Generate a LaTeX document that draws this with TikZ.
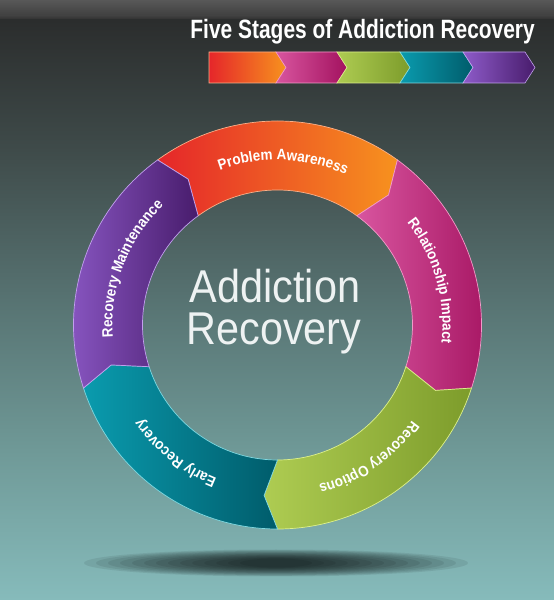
\documentclass[tikz,border=0pt]{standalone}
\usepackage{fontspec}
\setmainfont{Liberation Sans}
\newfontfamily\titlefont[FakeStretch=0.79]{Liberation Sans}
\newfontfamily\lblfont[FakeStretch=0.9]{Liberation Sans}
\newfontfamily\centerfont[FakeStretch=0.9]{Liberation Sans}
\usetikzlibrary{decorations.text}
\definecolor{bgA}{HTML}{585858}
\definecolor{bgB}{HTML}{3E3E3E}
\definecolor{bgC}{HTML}{2B2D2D}
\definecolor{bgD}{HTML}{3F4B4A}
\definecolor{bgE}{HTML}{577372}
\definecolor{bgF}{HTML}{6F9997}
\definecolor{bgG}{HTML}{86BBBB}
\definecolor{redL}{HTML}{E5262A}
\definecolor{redR}{HTML}{F7921E}
\definecolor{redO}{HTML}{F9B08A}
\definecolor{magL}{HTML}{D8559F}
\definecolor{magR}{HTML}{A3125F}
\definecolor{magO}{HTML}{F29AC8}
\definecolor{grnL}{HTML}{AECC52}
\definecolor{grnR}{HTML}{7D9C2B}
\definecolor{grnO}{HTML}{DDF08A}
\definecolor{tealL}{HTML}{0A9BAE}
\definecolor{tealR}{HTML}{005C6B}
\definecolor{tealO}{HTML}{7FD8E0}
\definecolor{purL}{HTML}{8E5BC9}
\definecolor{purR}{HTML}{481C6C}
\definecolor{purO}{HTML}{C2A0EE}
\definecolor{ctrtxt}{HTML}{EEF2F2}
\newcommand\ringseg[4]{%
  \pgfmathsetmacro\segb{#1-72}%
  \pgfmathsetmacro\segtb{#1-72-4.5}%
  \pgfmathsetmacro\segta{#1-4.5}%
  \path[left color=#2, right color=#3, draw=#4, line width=0.7pt, line join=miter]
    (#1:204) arc[start angle=#1, end angle=\segb, radius=204]
    -- (\segtb:171) -- (\segb:135)
    arc[start angle=\segb, end angle=#1, radius=135]
    -- (\segta:171) -- cycle;
}
\newcommand\ringlabel[2]{%
  \pgfmathsetmacro\lbla{#1+45}%
  \pgfmathsetmacro\lblb{#1-45}%
  \path[decorate, decoration={text along path, text align=center,
      text={|\lblfont\bfseries\fontsize{15}{15}\selectfont\color{white}|#2}}]
    (\lbla:165) arc[start angle=\lbla, end angle=\lblb, radius=165];
}
\tikzset{chevbox/.style={line width=0.6pt, line join=miter}}
\begin{document}
\begin{tikzpicture}[x=1pt,y=1pt]
\useasboundingbox (0,0) rectangle (554,600);
% background
\shade[top color=bgA, bottom color=bgB] (0,583.5) rectangle (554,600);
\shade[top color=bgB, bottom color=bgC] (0,579.5) rectangle (554,584);
\shade[top color=bgC, bottom color=bgD] (0,449.5) rectangle (554,580);
\shade[top color=bgD, bottom color=bgE] (0,299.5) rectangle (554,450);
\shade[top color=bgE, bottom color=bgF] (0,149.5) rectangle (554,300);
\shade[top color=bgF, bottom color=bgG] (0,0) rectangle (554,150);
% shadow
\foreach \i in {0,...,13}{
  \fill[black, opacity=0.08] (276,37) ellipse[x radius={192-12*\i}, y radius={13.5-0.7*\i}];
}
% title
\node[anchor=base east, text=white, font=\titlefont\bfseries\fontsize{26.5}{26.5}\selectfont, inner sep=0pt] (title) at (535,561) {Five Stages of Addiction Recovery};
% chevron bar
\path[chevbox, left color=redL, right color=redR, draw=redO] (209,548)--(276,548)--(286,532.5)--(276,517)--(209,517)--cycle;
\path[chevbox, left color=magL, right color=magR, draw=magO] (276,548)--(337,548)--(347,532.5)--(337,517)--(276,517)--(286,532.5)--cycle;
\path[chevbox, left color=grnL, right color=grnR, draw=grnO] (337,548)--(400,548)--(410,532.5)--(400,517)--(337,517)--(347,532.5)--cycle;
\path[chevbox, left color=tealL, right color=tealR, draw=tealO] (400,548)--(463,548)--(473,532.5)--(463,517)--(400,517)--(410,532.5)--cycle;
\path[chevbox, left color=purL, right color=purR, draw=purO] (463,548)--(525,548)--(535,532.5)--(525,517)--(463,517)--(473,532.5)--cycle;
% ring
\begin{scope}[shift={(277.5,275)}]
  \ringseg{126}{redL}{redR}{redO}
  \ringseg{54}{magL}{magR}{magO}
  \ringseg{-18}{grnL}{grnR}{grnO}
  \ringseg{-90}{tealL}{tealR}{tealO}
  \ringseg{198}{purL}{purR}{purO}
  \ringlabel{88}{Problem Awareness}
  \ringlabel{16}{Relationship Impact}
  \ringlabel{-55.5}{Recovery Options}
  \ringlabel{-128.5}{Early Recovery}
  \ringlabel{159}{Recovery Maintenance}
\end{scope}
% centre text
\node[anchor=base, text=ctrtxt, font=\centerfont\fontsize{46}{46}\selectfont, inner sep=0pt] (ctrA) at (275,297) {Addiction};
\node[anchor=base, text=ctrtxt, font=\centerfont\fontsize{46}{46}\selectfont, inner sep=0pt] (ctrB) at (274,255) {Recovery};
\end{tikzpicture}
\end{document}
